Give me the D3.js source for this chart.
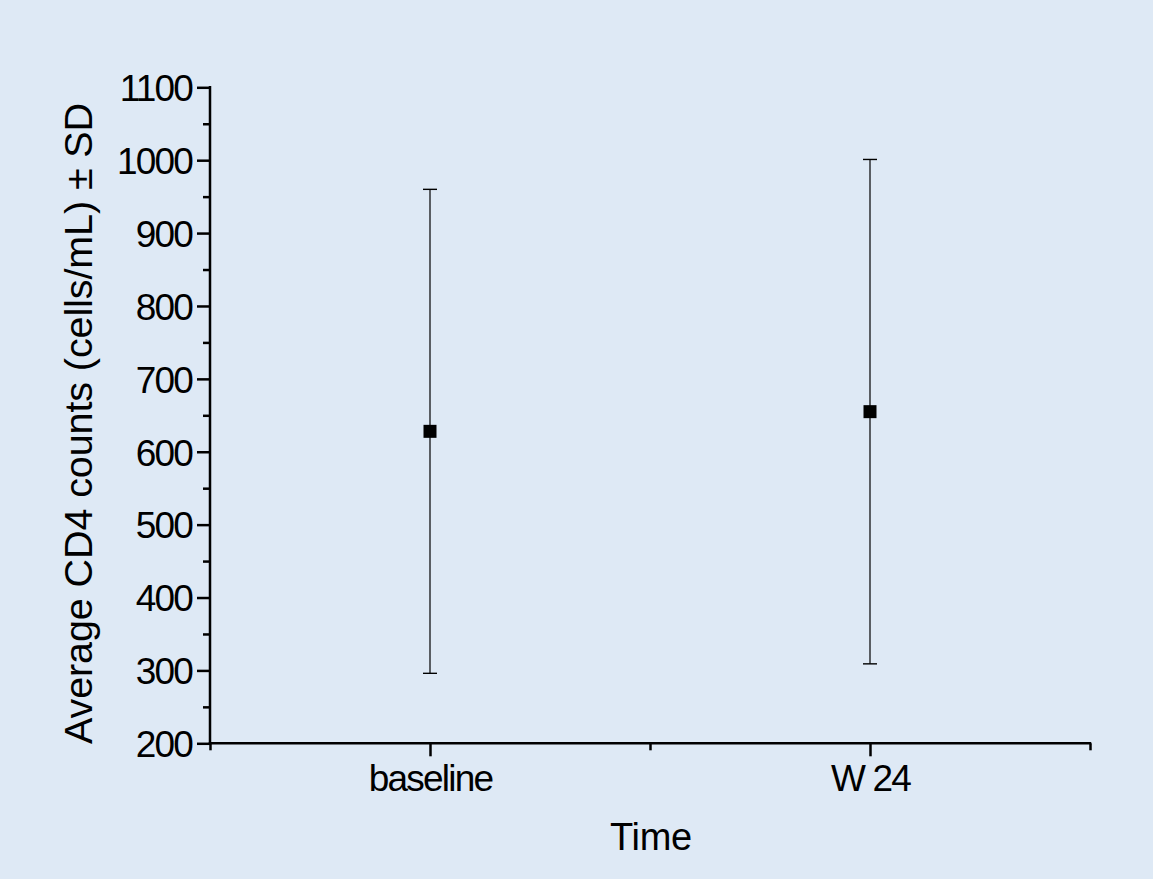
<!DOCTYPE html>
<html>
<head>
<meta charset="utf-8">
<script src="https://cdn.jsdelivr.net/npm/d3@7"></script>
<style>
  html, body { margin: 0; padding: 0; background: #dee9f5; }
  svg { display: block; }
  text { font-family: "Liberation Sans", Arial, sans-serif; fill: #000; }
</style>
</head>
<body>
<svg id="chart" width="1153" height="879"></svg>
<script>
// ---- data ----
const categories = ["baseline", "W 24"];
const categoryPos = [1, 2];
const means = [628, 655];
const sds = [332, 346];
const yTicks = [200, 300, 400, 500, 600, 700, 800, 900, 1000, 1100];
const yMinorTicks = [250, 350, 450, 550, 650, 750, 850, 950, 1050];
const xMinorTicks = [0.5, 1.5, 2.5];
const xTitle = "Time";
const yTitle = "Average CD4 counts (cells/mL) \u00b1 SD";

(function () {
// ---- layout ----
const svg = d3.select("#chart");
const W = 1153, H = 879;
svg.append("rect").attr("width", W).attr("height", H).attr("fill", "#dee9f5");

const mLeft = 210, mRight = 1090, mTop = 87.3, mBottom = 743.3;
const x = d3.scaleLinear().domain([0.5, 2.5]).range([mLeft, mRight]);
const y = d3.scaleLinear().domain([200, 1100]).range([mBottom, mTop]);

const fontSize = 37, ls = "-1.8px";
const axisW = 2.5;
const ff = "Liberation Sans, Arial, sans-serif";

// y axis major
const gy = svg.append("g").attr("transform", `translate(${mLeft},0)`)
  .call(d3.axisLeft(y).tickValues(yTicks).tickSize(13).tickPadding(5).tickFormat(d3.format("d")));
gy.select(".domain").remove();
gy.selectAll(".tick line").attr("stroke", "#000").attr("stroke-width", axisW);
gy.selectAll(".tick text").attr("font-size", fontSize).style("letter-spacing", ls)
  .attr("font-family", ff).attr("dy", "0.36em");
// y minor
const gym = svg.append("g").attr("transform", `translate(${mLeft},0)`)
  .call(d3.axisLeft(y).tickValues(yMinorTicks).tickSize(7).tickFormat(""));
gym.select(".domain").remove();
gym.selectAll(".tick line").attr("stroke", "#000").attr("stroke-width", axisW);

// x axis major
const gx = svg.append("g").attr("transform", `translate(0,${mBottom})`)
  .call(d3.axisBottom(x).tickValues(categoryPos).tickSize(13).tickPadding(8)
    .tickFormat((d, i) => categories[i]));
gx.select(".domain").remove();
gx.selectAll(".tick line").attr("stroke", "#000").attr("stroke-width", axisW);
gx.selectAll(".tick text").attr("font-size", fontSize).style("letter-spacing", ls)
  .attr("font-family", ff);
// x minor
const gxm = svg.append("g").attr("transform", `translate(0,${mBottom})`)
  .call(d3.axisBottom(x).tickValues(xMinorTicks).tickSize(7).tickFormat(""));
gxm.select(".domain").remove();
gxm.selectAll(".tick line").attr("stroke", "#000").attr("stroke-width", axisW);

// axis lines
svg.append("line").attr("x1", mLeft).attr("x2", mLeft).attr("y1", y(1100)).attr("y2", mBottom)
  .attr("stroke", "#000").attr("stroke-width", axisW).attr("stroke-linecap", "square");
svg.append("line").attr("x1", mLeft).attr("x2", mRight).attr("y1", mBottom).attr("y2", mBottom)
  .attr("stroke", "#000").attr("stroke-width", axisW).attr("stroke-linecap", "square");

// error bars
const data = categories.map((c, i) => ({ c, pos: categoryPos[i], m: means[i], sd: sds[i] }));
const capW = 7;
const eb = svg.append("g");
data.forEach(d => {
  const cx = x(d.pos);
  eb.append("line").attr("x1", cx).attr("x2", cx).attr("y1", y(d.m + d.sd)).attr("y2", y(d.m - d.sd))
    .attr("stroke", "#000").attr("stroke-width", 1.2);
  [d.m + d.sd, d.m - d.sd].forEach(v => {
    eb.append("line").attr("x1", cx - capW).attr("x2", cx + capW).attr("y1", y(v)).attr("y2", y(v))
      .attr("stroke", "#000").attr("stroke-width", 1.4);
  });
  eb.append("rect").attr("x", cx - 6.5).attr("y", y(d.m) - 6.5).attr("width", 13).attr("height", 13)
    .attr("fill", "#000");
});

// titles
svg.append("text").attr("x", 651).attr("y", 850).attr("text-anchor", "middle")
  .attr("font-size", 38).style("letter-spacing", "-0.3px").text(xTitle);
svg.append("text").attr("transform", `translate(92,423.5) rotate(-90)`).attr("text-anchor", "middle")
  .attr("font-size", 39.5).style("letter-spacing", "-0.1px").text(yTitle);
})();
</script>
</body>
</html>
